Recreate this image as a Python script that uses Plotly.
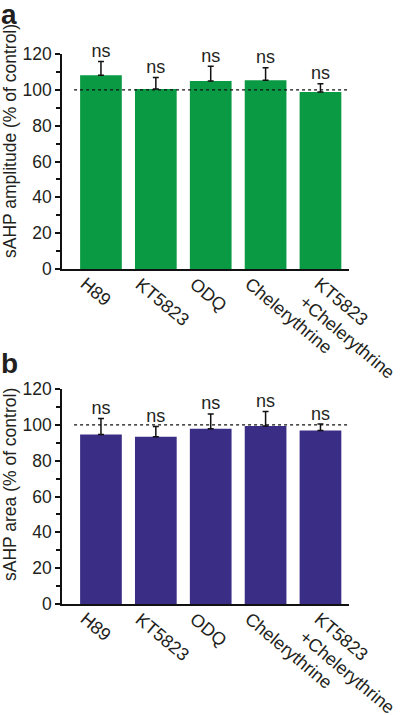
import plotly.graph_objects as go
from plotly.subplots import make_subplots

categories = ["H89", "KT5823", "ODQ", "Chelerythrine", "KT5823<br>+Chelerythrine"]
amp_mean = [108.2, 100.4, 104.9, 105.4, 98.8]
amp_err = [7.6, 6.5, 8.3, 6.9, 4.6]
area_mean = [94.6, 93.3, 97.8, 99.3, 96.8]
area_err = [8.9, 5.8, 8.3, 8.1, 3.6]
sig_a = ["ns"] * 5
sig_b = ["ns"] * 5
yticks = [0, 20, 40, 60, 80, 100, 120]

GREEN = "#0a9a44"
PURPLE = "#3a2d85"
TXT = "#231f20"
FONT = "Liberation Sans, Arial, sans-serif"
W, H = 400, 715
ML, MR = 62, 51
PW = W - ML - MR


def px_x(px):
    """figure pixel x -> paper x"""
    return (px - ML) / PW


fig = make_subplots(rows=2, cols=1, vertical_spacing=0.1)

x_idx = list(range(len(categories)))

for row, vals, errs, col, sig in [(1, amp_mean, amp_err, GREEN, sig_a),
                                  (2, area_mean, area_err, PURPLE, sig_b)]:
    fig.add_trace(go.Bar(
        x=x_idx, y=vals, marker=dict(color=col, line=dict(width=0)),
        error_y=dict(type="data", array=errs, arrayminus=[0] * len(errs),
                     symmetric=False, color="#111", thickness=1.5, width=3),
        showlegend=False, width=0.76,
    ), row=row, col=1)
    fig.add_trace(go.Scatter(
        x=[-0.49, 4.52], y=[100, 100], mode="lines",
        line=dict(color="#111", width=1.3, dash="3px,3px"),
        showlegend=False, hoverinfo="skip",
    ), row=row, col=1)
    fig.add_trace(go.Scatter(
        x=x_idx, y=[v + e for v, e in zip(vals, errs)], mode="text",
        text=sig, textposition="top center", cliponaxis=False,
        textfont=dict(family=FONT, size=18, color=TXT),
        showlegend=False, hoverinfo="skip",
    ), row=row, col=1)
    xa = "x" if row == 1 else "x2"
    ya = "y" if row == 1 else "y2"
    for i, lab in zip(x_idx, categories):
        fig.add_annotation(text=lab, x=i, y=0, xref=xa, yref=ya,
                           xanchor="left", yanchor="top", align="left",
                           textangle=40, xshift=-27, yshift=-2, showarrow=False,
                           font=dict(family=FONT, size=18, color=TXT))

common_x = dict(
    range=[-0.71, 4.52], tickmode="array", tickvals=x_idx, ticktext=categories,
    showticklabels=False, showgrid=False, zeroline=False, showline=True,
    linecolor="#111", linewidth=1.5, ticks="", automargin=False,
)
common_y = dict(
    range=[0, 120], tickvals=yticks, showgrid=False, zeroline=False,
    showline=True, linecolor="#111", linewidth=1.5, ticks="outside",
    ticklen=5, tickwidth=1.5, tickcolor="#111", automargin=False,
    minor=dict(ticks="outside", ticklen=4, tickwidth=1.5, tickcolor="#111", dtick=10),
    tickfont=dict(family=FONT, size=17.5, color=TXT),
)
fig.update_xaxes(**common_x, domain=[0, 1])
fig.update_yaxes(**common_y)
fig.update_yaxes(domain=[1 - 269 / H, 1 - 54 / H], row=1, col=1)
fig.update_yaxes(domain=[1 - 604 / H, 1 - 389 / H], row=2, col=1)

for txt, yc in [("sAHP amplitude (% of control)", 141),
                ("sAHP area (% of control)", 485)]:
    fig.add_annotation(text=txt, textangle=-90, x=px_x(10), y=1 - yc / H,
                       xref="paper", yref="paper", xanchor="center", yanchor="middle",
                       showarrow=False, font=dict(family=FONT, size=17.5, color=TXT))

fig.add_annotation(text="<b>a</b>", x=px_x(-1), y=1 + 3 / H, xref="paper", yref="paper",
                   xanchor="left", yanchor="top", showarrow=False,
                   font=dict(family=FONT, size=28, color=TXT))
fig.add_annotation(text="<b>b</b>", x=px_x(-1), y=1 - 346 / H, xref="paper", yref="paper",
                   xanchor="left", yanchor="top", showarrow=False,
                   font=dict(family=FONT, size=28, color=TXT))

fig.update_layout(
    width=W, height=H,
    margin=dict(l=ML, r=MR, t=0, b=0),
    plot_bgcolor="white", paper_bgcolor="white",
    bargap=0.24,
    font=dict(family=FONT, color=TXT),
)

fig.write_html("out.html", config={"displayModeBar": False},
               post_script="document.body.style.margin='0';document.body.style.overflow='hidden';")
